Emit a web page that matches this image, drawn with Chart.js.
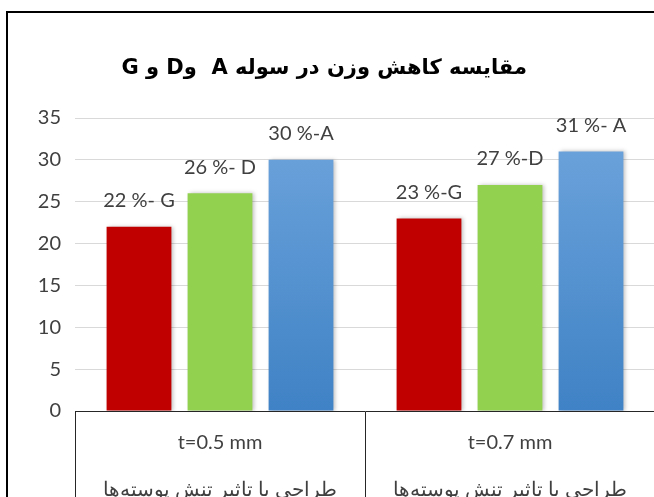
<!DOCTYPE html>
<html>
<head>
<meta charset="utf-8">
<script src="https://cdn.jsdelivr.net/npm/chart.js@4"></script>
<style>
  html, body { margin: 0; padding: 0; background: #fff; overflow: hidden; }
  #frame { position: absolute; left: 6px; top: 11px; border: 2px solid #000; width: 660px; height: 518px; }
</style>
</head>
<body>
<div id="frame"><canvas id="weightChart" width="660" height="518"></canvas></div>
<script>
const chartTitle = '\u202Bمقایسه کاهش وزن در سوله A  وD و G\u202C\u00A0\u00A0';
const thicknessLabels = ['t=0.5 mm', 't=0.7 mm'];
const designLabel = '\u202Bطراحی با تاثیر تنش پوسته‌ها\u202C';
const valuesG = [22, 23];
const valuesD = [26, 27];
const valuesA = [30, 31];
const textG = ['22 %- G', '23 %-G'];
const textD = ['26 %- D', '27 %-D'];
const textA = ['30 %-A', '31 %- A'];

const tickFont = 'Lato';

// text over each bar, placed from the bar element itself
const barTextPlugin = {
  id: 'barText',
  afterDatasetsDraw(chart) {
    const ctx = chart.ctx;
    ctx.save();
    ctx.font = '20px ' + tickFont;
    ctx.fillStyle = '#404040';
    ctx.textAlign = 'center';
    ctx.textBaseline = 'middle';
    chart.data.datasets.forEach((ds, i) => {
      chart.getDatasetMeta(i).data.forEach((bar, j) => {
        ctx.fillText(ds.barText[j], bar.x, bar.y - 26);
      });
    });
    ctx.restore();
  }
};

const shadowPlugin = {
  id: 'barShadow',
  beforeDatasetsDraw(chart) {
    const ctx = chart.ctx;
    ctx.save();
    ctx.shadowColor = 'rgba(0,0,0,0.25)';
    ctx.shadowBlur = 4;
    ctx.shadowOffsetX = 2;
  },
  afterDatasetsDraw(chart) {
    chart.ctx.restore();
  }
};

function blueFill(context) {
  const area = context.chart.chartArea;
  if (!area) return '#5b9bd5';
  const g = context.chart.ctx.createLinearGradient(0, area.top, 0, area.bottom);
  g.addColorStop(0, '#6fa5dd');
  g.addColorStop(1, '#3f82c5');
  return g;
}

const ctx = document.getElementById('weightChart').getContext('2d');
new Chart(ctx, {
  type: 'bar',
  data: {
    labels: thicknessLabels.map(t => [t, designLabel]),
    datasets: [
      { label: 'G', data: valuesG, barText: textG, backgroundColor: '#c00000' },
      { label: 'D', data: valuesD, barText: textD, backgroundColor: '#92d050' },
      { label: 'A', data: valuesA, barText: textA, backgroundColor: blueFill }
    ]
  },
  options: {
    responsive: false,
    animation: false,
    categoryPercentage: 0.838,
    barPercentage: 0.8,
    layout: { padding: { left: 0, right: 13, top: 0, bottom: 0 } },
    plugins: {
      legend: { display: false },
      tooltip: { enabled: false },
      title: {
        display: true,
        text: chartTitle,
        color: '#000',
        font: { family: 'DejaVu Sans', size: 21, weight: 'bold' },
        padding: { top: 42.5, bottom: 37.3 }
      }
    },
    scales: {
      x: {
        grid: { drawOnChartArea: false, drawTicks: true, tickLength: 120, color: '#262626', offset: true },
        border: { display: true, color: '#262626', width: 1 },
        ticks: {
          color: '#404040',
          padding: 8.5 - 120,
          font: { family: tickFont, size: 20, lineHeight: 2.35 }
        },
        afterFit(scale) { scale.height = 120; }
      },
      y: {
        min: 0,
        max: 35,
        ticks: { stepSize: 5, color: '#404040', padding: 14, font: { family: tickFont, size: 20 } },
        grid: { color: '#d9d9d9', drawTicks: false },
        border: { display: false },
        afterFit(scale) { scale.width = 67; }
      }
    }
  },
  plugins: [shadowPlugin, barTextPlugin]
});
</script>
</body>
</html>
